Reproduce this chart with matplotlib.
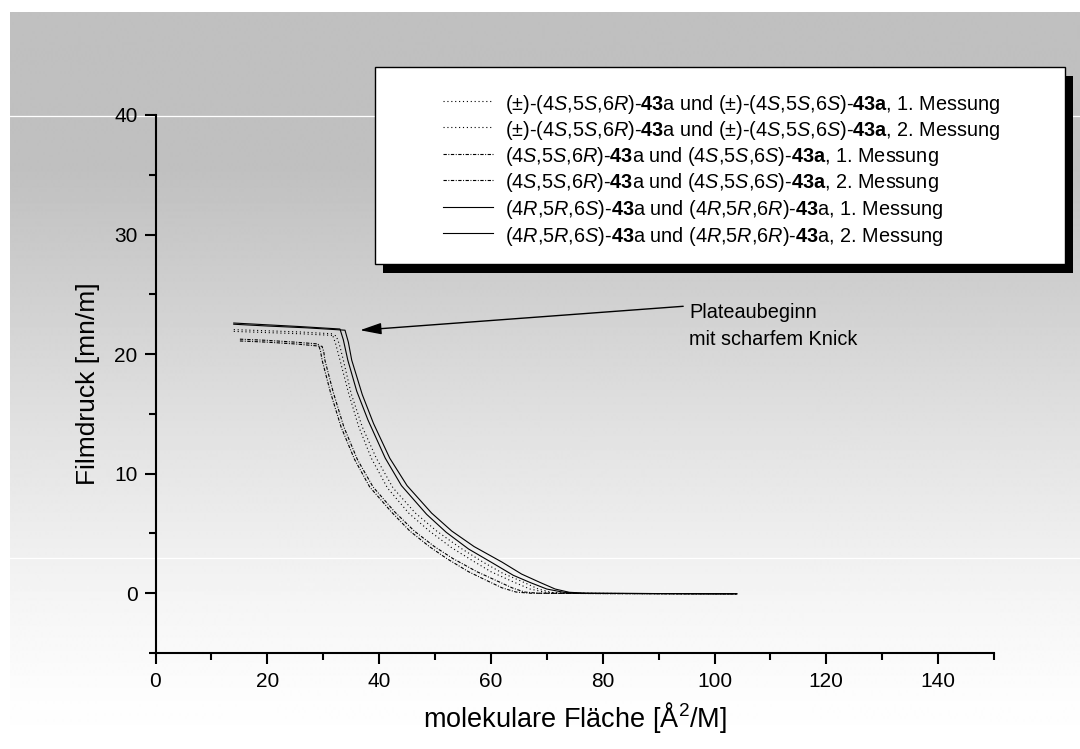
import numpy as np
import matplotlib
matplotlib.use("Agg")
import matplotlib.pyplot as plt
from matplotlib.patches import Rectangle
from matplotlib.lines import Line2D
from matplotlib.ticker import MultipleLocator

plt.rcParams['font.family'] = ['Liberation Sans', 'DejaVu Sans']
plt.rcParams['mathtext.fontset'] = 'custom'
plt.rcParams['mathtext.rm'] = 'Liberation Sans'
plt.rcParams['mathtext.it'] = 'Liberation Sans:italic'
plt.rcParams['mathtext.bf'] = 'Liberation Sans:bold'
plt.rcParams['lines.scale_dashes'] = False

# ---- isotherm data: molecular area [A^2/M] vs. film pressure [mN/m] ----
rac1_x = [14.0, 20, 26, 31.6, 32.2, 33.0, 34.5, 36.3, 38.6, 41.5, 45.3, 49, 53, 56.8, 60, 64, 67, 70, 73, 85, 104]
rac1_y = [22.05, 21.95, 21.85, 21.7, 20.9, 19.5, 16.8, 14.0, 11.3, 8.8, 6.7, 5.2, 3.8, 2.7, 1.8, 0.95, 0.35, 0.06, 0.0, -0.03, -0.05]
rac2_x = [14.0, 20, 26, 32.3, 32.9, 33.6, 35.0, 37.0, 39.5, 42.5, 46.5, 50.3, 54.5, 58.6, 62, 65.7, 68.5, 71, 74, 85, 104]
rac2_y = [21.9, 21.8, 21.7, 21.55, 20.8, 19.5, 16.7, 13.9, 11.3, 8.8, 6.7, 5.2, 3.8, 2.6, 1.7, 0.95, 0.35, 0.06, 0.0, -0.03, -0.05]

ss1_x = [15.1, 20, 25, 29.1, 29.5, 29.8, 31.3, 33.2, 35.6, 38.3, 42.2, 45.5, 49, 52.1, 56, 59.3, 62, 64.5, 67, 80, 104]
ss1_y = [21.25, 21.15, 21.0, 20.85, 20.3, 19.5, 16.8, 13.9, 11.2, 8.9, 6.8, 5.2, 3.9, 2.9, 1.8, 1.05, 0.45, 0.1, 0.0, -0.03, -0.05]
ss2_x = [15.1, 20, 25, 29.8, 30.1, 30.3, 31.8, 33.7, 36.1, 38.9, 42.8, 46.3, 49.9, 53.2, 57.5, 61, 63.8, 66, 68.5, 80, 104]
ss2_y = [21.1, 21.0, 20.85, 20.65, 20.2, 19.5, 16.8, 13.9, 11.2, 8.9, 6.8, 5.2, 3.9, 2.9, 1.8, 1.05, 0.45, 0.1, 0.0, -0.03, -0.05]

rr1_x = [14.0, 20, 26, 33.0, 33.6, 34.4, 36, 38, 41.1, 44, 48.5, 52, 56, 60.4, 64, 67, 70, 73, 76, 85, 95, 104]
rr1_y = [22.6, 22.45, 22.3, 22.1, 21.2, 19.5, 16.9, 14.5, 11.3, 9.0, 6.6, 5.1, 3.7, 2.5, 1.5, 0.9, 0.35, 0.08, 0.0, -0.02, -0.04, -0.05]
rr2_x = [14.0, 20, 27, 33.9, 34.5, 35.1, 37, 39, 41.9, 45, 49.4, 53, 57, 62.0, 65.5, 68.8, 71.5, 74, 77, 86, 95, 104]
rr2_y = [22.5, 22.35, 22.2, 22.0, 21.0, 19.5, 16.6, 14.2, 11.3, 9.0, 6.7, 5.2, 3.9, 2.6, 1.6, 0.9, 0.35, 0.08, 0.0, -0.02, -0.04, -0.05]

labels = [
    r"(±)-(4$\mathit{S}$,5$\mathit{S}$,6$\mathit{R}$)-$\mathbf{43}$a und (±)-(4$\mathit{S}$,5$\mathit{S}$,6$\mathit{S}$)-$\mathbf{43a}$, 1. Messung",
    r"(±)-(4$\mathit{S}$,5$\mathit{S}$,6$\mathit{R}$)-$\mathbf{43}$a und (±)-(4$\mathit{S}$,5$\mathit{S}$,6$\mathit{S}$)-$\mathbf{43a}$, 2. Messung",
    r"(4$\mathit{S}$,5$\mathit{S}$,6$\mathit{R}$)-$\mathbf{43}$a und (4$\mathit{S}$,5$\mathit{S}$,6$\mathit{S}$)-$\mathbf{43a}$, 1. Messung",
    r"(4$\mathit{S}$,5$\mathit{S}$,6$\mathit{R}$)-$\mathbf{43}$a und (4$\mathit{S}$,5$\mathit{S}$,6$\mathit{S}$)-$\mathbf{43a}$, 2. Messung",
    r"(4$\mathit{R}$,5$\mathit{R}$,6$\mathit{S}$)-$\mathbf{43}$a und (4$\mathit{R}$,5$\mathit{R}$,6$\mathit{R}$)-$\mathbf{43}$a, 1. Messung",
    r"(4$\mathit{R}$,5$\mathit{R}$,6$\mathit{S}$)-$\mathbf{43}$a und (4$\mathit{R}$,5$\mathit{R}$,6$\mathit{R}$)-$\mathbf{43}$a, 2. Messung",
]

x_ticks = [0, 20, 40, 60, 80, 100, 120, 140]
y_ticks = [0, 10, 20, 30, 40]

DOT = (0, (0.8, 2.0))
DASHDOT = (0, (2.4, 1.1, 0.7, 1.1))
series = [
    (rac1_x, rac1_y, DOT), (rac2_x, rac2_y, DOT),
    (ss1_x, ss1_y, DASHDOT), (ss2_x, ss2_y, DASHDOT),
    (rr1_x, rr1_y, '-'), (rr2_x, rr2_y, '-'),
]

W, H = 1080, 749
fig = plt.figure(figsize=(W / 100, H / 100), dpi=100)
fig.patch.set_facecolor('white')


def fx(px):
    return px / W


def fy(py):
    return 1 - py / H


# grey-to-white page background
bg = fig.add_axes([0, 0, 1, 1], zorder=-10)
bg.set_xlim(0, W)
bg.set_ylim(H, 0)
bg.axis('off')
rows = np.arange(12, H + 1)
prof = np.interp(rows, [12, 170, 280, 450, 600, 700, 749],
                 [192, 192, 206, 228, 245, 253, 255]) / 255.0
img = np.repeat(prof[:, None], 2, axis=1)
bg.imshow(img, cmap='gray', vmin=0, vmax=1, extent=(10, W, H, 12),
          aspect='auto', interpolation='bilinear')
for yy in (115.5, 557.5):
    bg.plot([10, W], [yy, yy], color='white', lw=0.9)

# main axes
ax = fig.add_axes([fx(155.5), fy(653), fx(994) - fx(155.5), fy(115) - fy(653)])
ax.patch.set_alpha(0)
for xs, ys, ls in series:
    ax.plot(xs, ys, color='black', lw=0.8, linestyle=ls)

ax.set_xlim(0, 150)
ax.set_ylim(-5, 40)
ax.spines['top'].set_visible(False)
ax.spines['right'].set_visible(False)
for s in ('left', 'bottom'):
    ax.spines[s].set_linewidth(1.5)
ax.set_xticks(x_ticks)
ax.set_yticks(y_ticks)
ax.xaxis.set_minor_locator(MultipleLocator(10))
ax.yaxis.set_minor_locator(MultipleLocator(5))
ax.tick_params(which='major', direction='out', length=8, width=1.5,
               labelsize=15, pad=5)
ax.tick_params(which='minor', direction='out', length=5, width=1.5)
ax.tick_params(axis='x', which='major', pad=6)

ax.set_xlabel(r"molekulare Fläche [Å$^{2}$/M]", fontsize=19.5)
ax.set_ylabel("Filmdruck [mn/m]", fontsize=19)
ax.xaxis.set_label_coords(0.5, -0.088)
ax.yaxis.set_label_coords(-0.066, 0.5)

# annotation for the onset of the plateau
ax.annotate("", xy=(36.6, 22.0), xytext=(94.4, 24.0),
            arrowprops=dict(arrowstyle='-|>,head_length=1.3,head_width=0.35',
                            color='black', lw=1.0, shrinkA=0, shrinkB=0))
fig.text(fx(689), fy(326), "Plateaubeginn\nmit scharfem Knick", fontsize=14.3,
         ha='left', va='center', linespacing=1.55)

# legend box with hard shadow
box_l, box_t, box_r, box_b = 375, 67, 1065, 264
fig.add_artist(Rectangle((fx(box_l + 8), fy(box_b + 9)), fx(box_r - box_l), fy(box_t) - fy(box_b),
                         transform=fig.transFigure, facecolor='black', edgecolor='none', zorder=5))
fig.add_artist(Rectangle((fx(box_l), fy(box_b)), fx(box_r - box_l), fy(box_t) - fy(box_b),
                         transform=fig.transFigure, facecolor='white', edgecolor='black',
                         lw=1.0, zorder=6))
row_y = [101, 127, 153.5, 180, 206.5, 233]
for (xs, ys, ls), lab, ry in zip(series, labels, row_y):
    fig.add_artist(Line2D([fx(443), fx(493)], [fy(ry), fy(ry)], transform=fig.transFigure,
                          color='black', lw=0.8, linestyle=ls, zorder=7))
    fig.text(fx(505), fy(ry), lab, fontsize=14.3, ha='left', va='center_baseline', zorder=7)

fig.savefig("out.png", dpi=100)
